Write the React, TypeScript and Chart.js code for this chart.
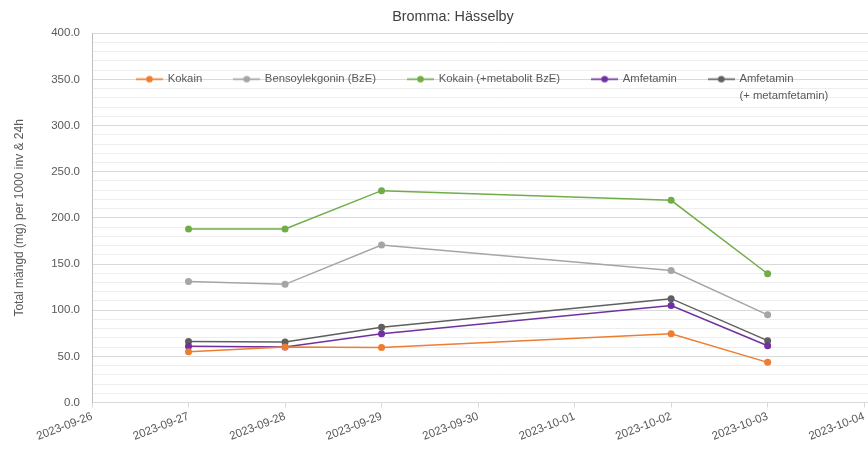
import { useEffect, useRef } from 'react';
import { Chart, registerables } from 'chart.js';

Chart.register(...registerables);

const chartTitle = 'Bromma: Hässelby';
const yAxisTitle = 'Total mängd (mg) per 1000 inv & 24h';

// every day shown on the x axis (tick labels)
const xTickLabels = [
  '2023-09-26', '2023-09-27', '2023-09-28', '2023-09-29', '2023-09-30',
  '2023-10-01', '2023-10-02', '2023-10-03', '2023-10-04',
];
// sampling dates
const sampleDates = ['2023-09-27', '2023-09-28', '2023-09-29', '2023-10-02', '2023-10-03'];

const kokain = [55, 60, 59.5, 74.5, 43.5];
const bensoylekgonin = [131, 128, 170.5, 143, 95];
const kokainMetabolit = [188, 188, 229.5, 219, 139.5];
const amfetamin = [61, 60, 74.5, 105, 61.5];
const amfetaminMetamfetamin = [66, 65.5, 81.5, 112.5, 67];

const seriesLabels: (string | string[])[] = [
  'Kokain',
  'Bensoylekgonin (BzE)',
  'Kokain (+metabolit BzE)',
  'Amfetamin',
  ['Amfetamin', '(+ metamfetamin)'],
];
const seriesValues = [kokain, bensoylekgonin, kokainMetabolit, amfetamin, amfetaminMetamfetamin];
const seriesColors = ['#ED7D31', '#A5A5A5', '#70AD47', '#7030A0', '#5F5F5F'];

const yMin = 0;
const yMax = 400;
const yMajorStep = 50;
const yMinorStep = 10;

const FONT = 'Liberation Sans, Arial, sans-serif';
const TEXT = '#595959';

function makeMarker(color: string): HTMLCanvasElement {
  const c = document.createElement('canvas');
  c.width = 27;
  c.height = 9;
  const g = c.getContext('2d')!;
  g.strokeStyle = color;
  g.lineWidth = 1.6;
  g.beginPath();
  g.moveTo(0, 4.5);
  g.lineTo(27, 4.5);
  g.stroke();
  g.fillStyle = color;
  g.beginPath();
  g.arc(13.5, 4.5, 3.3, 0, Math.PI * 2);
  g.fill();
  return c;
}

const legendPlacer = {
  id: 'legendPlacer',
  afterLayout(chart: any) {
    const l = chart.legend;
    if (!l) return;
    l.left = 105;
    l.right = 1000;
    l.top = 41.5;
    l.bottom = 130;
  },
};

export default function App() {
  const ref = useRef<HTMLCanvasElement>(null);

  useEffect(() => {
    const canvas = ref.current!;
    const markers = seriesColors.map((c) => makeMarker(c));
    const chart = new Chart(canvas, {
      type: 'line',
      data: {
        datasets: seriesValues.map((vals, i) => ({
          label: seriesLabels[i] as any,
          data: sampleDates.map((d, j) => ({ x: xTickLabels.indexOf(d), y: vals[j] })),
          borderColor: seriesColors[i],
          backgroundColor: seriesColors[i],
          borderWidth: 1.5,
          pointRadius: 3.5,
          pointBorderWidth: 0,
          pointStyle: 'circle',
          tension: 0,
        })),
      },
      options: {
        responsive: false,
        animation: false,
        devicePixelRatio: 1,
        layout: { padding: 0 },
        plugins: {
          title: {
            display: true,
            text: chartTitle,
            color: '#404040',
            font: { family: FONT, size: 14.4, weight: 'normal' },
            padding: { top: 8.5, bottom: 6.5 },
          },
          legend: {
            position: 'top',
            align: 'start',
            maxHeight: 1,
            labels: {
              usePointStyle: true,
              pointStyleWidth: 25,
              padding: 32,
              color: TEXT,
              font: { family: FONT, size: 11.3, lineHeight: 1.45 },
              generateLabels: () =>
                seriesLabels.map((t, i) => ({
                  text: t as any,
                  fillStyle: seriesColors[i],
                  strokeStyle: seriesColors[i],
                  lineWidth: 0,
                  pointStyle: markers[i] as any,
                  datasetIndex: i,
                  hidden: false,
                  fontColor: TEXT,
                })),
            },
          },
          tooltip: { enabled: false },
        },
        scales: {
          x: {
            type: 'linear',
            min: 0,
            max: 8.392,
            afterBuildTicks: (s: any) => {
              s.ticks = s.ticks.filter(
                (t: any) => Math.abs(t.value - Math.round(t.value)) < 1e-6 && t.value <= xTickLabels.length - 1
              );
            },
            afterFit: (s: any) => {
              s.height = 49.5;
            },
            grid: { drawOnChartArea: false, drawTicks: true, tickLength: 5, color: '#d9d9d9' },
            border: { color: '#d9d9d9' },
            ticks: {
              stepSize: 1,
              includeBounds: false,
              autoSkip: false,
              minRotation: 21,
              maxRotation: 21,
              padding: 2,
              color: TEXT,
              font: { family: FONT, size: 11.5 },
              callback: (v: any) => xTickLabels[Math.round(Number(v))] ?? '',
            },
          },
          y: {
            min: yMin,
            max: yMax,
            afterFit: (s: any) => {
              s.width = 92;
            },
            grid: {
              drawTicks: false,
              color: (ctx: any) => (ctx.tick && ctx.tick.value % yMajorStep === 0 ? '#d9d9d9' : '#eeeeee'),
            },
            border: { color: '#bfbfbf' },
            ticks: {
              stepSize: yMinorStep,
              autoSkip: false,
              maxTicksLimit: 1000,
              padding: 12,
              color: TEXT,
              font: { family: FONT, size: 11.5 },
              callback: (v: any) => (Number(v) % yMajorStep === 0 ? Number(v).toFixed(1) : ''),
            },
            title: {
              display: true,
              text: yAxisTitle,
              color: TEXT,
              font: { family: FONT, size: 12 },
              padding: { top: 12, bottom: 0 },
            },
          },
        },
      } as any,
      plugins: [legendPlacer],
    });
    return () => chart.destroy();
  }, []);

  return (
    <div style={{ position: 'fixed', left: 0, top: 0, width: 868, height: 452, overflow: 'hidden', background: '#fff' }}>
      <canvas ref={ref} width={906} height={452} style={{ display: 'block', width: 906, height: 452 }} />
    </div>
  );
}
